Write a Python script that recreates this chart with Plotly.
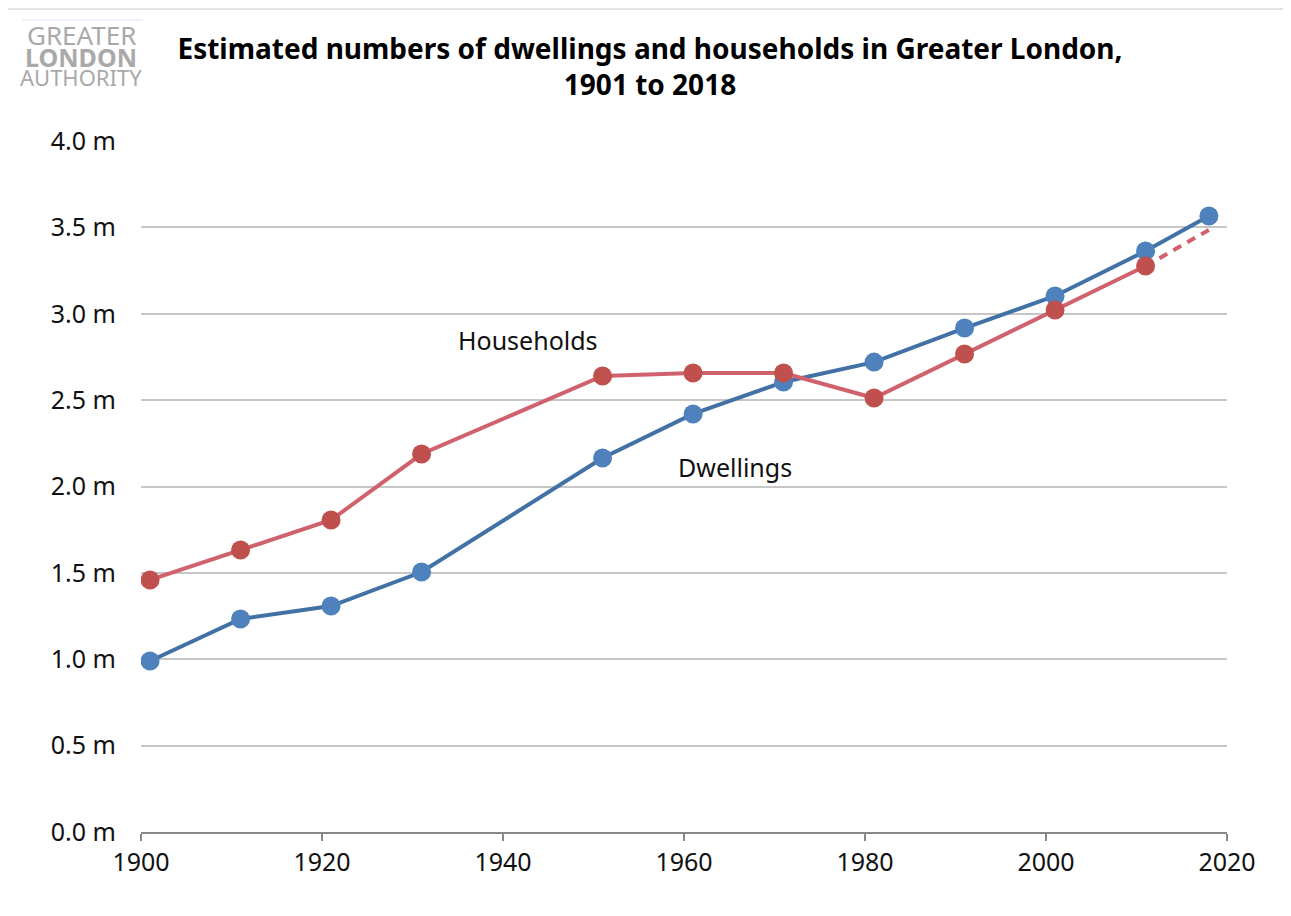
import plotly.graph_objects as go

years = [1901, 1911, 1921, 1931, 1951, 1961, 1971, 1981, 1991, 2001, 2011]
dwell_years = years + [2018]
dwellings = [0.99, 1.233, 1.308, 1.505, 2.165, 2.42, 2.605, 2.72, 2.917, 3.103, 3.363, 3.566]
households = [1.459, 1.632, 1.806, 2.188, 2.640, 2.657, 2.657, 2.512, 2.767, 3.022, 3.276]
proj_years = [2011, 2018]
households_proj = [3.276, 3.485]

y_ticks = [0, 0.5, 1.0, 1.5, 2.0, 2.5, 3.0, 3.5, 4.0]
y_labels = [f"{v:.1f} m" for v in y_ticks]
x_ticks = [1900, 1920, 1940, 1960, 1980, 2000, 2020]

OFF = 8  # page body margin
W, H = 1291 - 2 * OFF, 916 - 2 * OFF
L, R, T, B = 141 - OFF, 1227 - OFF, 141 - OFF, 832 - OFF
pw, ph = R - L, B - T

def px(x):
    return (x - OFF - L) / pw

def py(y):
    return (B - (y - OFF)) / ph

FONT = "Noto Sans"
BLUE_LINE = "#4271a6"
BLUE_MK = "#4f81bd"
RED_LINE = "#d0626e"
RED_MK = "#c0504d"

fig = go.Figure()
fig.add_trace(go.Scatter(x=dwell_years, y=dwellings, mode="lines+markers",
                         line=dict(color=BLUE_LINE, width=4),
                         marker=dict(color=BLUE_MK, size=19), name="Dwellings"))
fig.add_trace(go.Scatter(x=proj_years, y=households_proj, mode="lines",
                         line=dict(color=RED_LINE, width=4, dash="9px,7px"),
                         name="Households (projected)"))
fig.add_trace(go.Scatter(x=years, y=households, mode="lines+markers",
                         line=dict(color=RED_LINE, width=4),
                         marker=dict(color=RED_MK, size=19), name="Households"))

fig.update_layout(
    width=W, height=H,
    margin=dict(l=L, r=W - R, t=T, b=H - B),
    paper_bgcolor="white", plot_bgcolor="white",
    showlegend=False,
    font=dict(family=FONT, size=25, color="#111111"),
    title=dict(text="Estimated numbers of dwellings and households in Greater London,<br>1901 to 2018",
               x=px(650), xanchor="center", xref="paper",
               y=1 - (59 - OFF) / H, yanchor="middle",
               font=dict(family=FONT, size=28, color="#000000", weight="bold")),
    xaxis=dict(range=[1900, 2020], tickvals=x_ticks, ticks="outside", ticklen=7,
               tickcolor="#888888", tickwidth=2, showline=True, linecolor="#888888",
               linewidth=2, showgrid=False, zeroline=False,
               tickfont=dict(family=FONT, size=25, color="#111111")),
    yaxis=dict(range=[0, 4.0], tickvals=y_ticks, ticktext=y_labels,
               showgrid=True, gridcolor="#c6c6c6", gridwidth=2, zeroline=False,
               showline=False, ticks="", ticklabelstandoff=24,
               tickfont=dict(family=FONT, size=25, color="#111111")),
)

ann = [
    dict(text="Households", x=1942.8, y=2.848),
    dict(text="Dwellings", x=1965.6, y=2.113),
]
for a in ann:
    fig.add_annotation(text=a["text"], x=a["x"], y=a["y"], xref="x", yref="y",
                       showarrow=False, font=dict(family=FONT, size=25, color="#111111"))

# Logo
logo = [
    ("GREATER", 35, 26, "normal"),
    ("LONDON", 57, 25, "bold"),
    ("AUTHORITY", 77, 22, "normal"),
]
for txt, yy, sz, wt in logo:
    fig.add_annotation(text=txt, x=px(81), y=py(yy), xref="paper", yref="paper",
                       showarrow=False, xanchor="center", yanchor="middle",
                       font=dict(family=FONT, size=sz, color="#a9a9a9", weight=wt))

fig.add_shape(type="line", xref="paper", yref="paper",
              x0=px(22), x1=px(143), y0=py(20), y1=py(20),
              line=dict(color="#dce6f2", width=1))

# outer border
fig.add_shape(type="rect", xref="paper", yref="paper",
              x0=px(7), x1=px(1290), y0=py(9), y1=py(930),
              line=dict(color="#d9d9d9", width=1.5), layer="below")

fig.write_html("out.html")
